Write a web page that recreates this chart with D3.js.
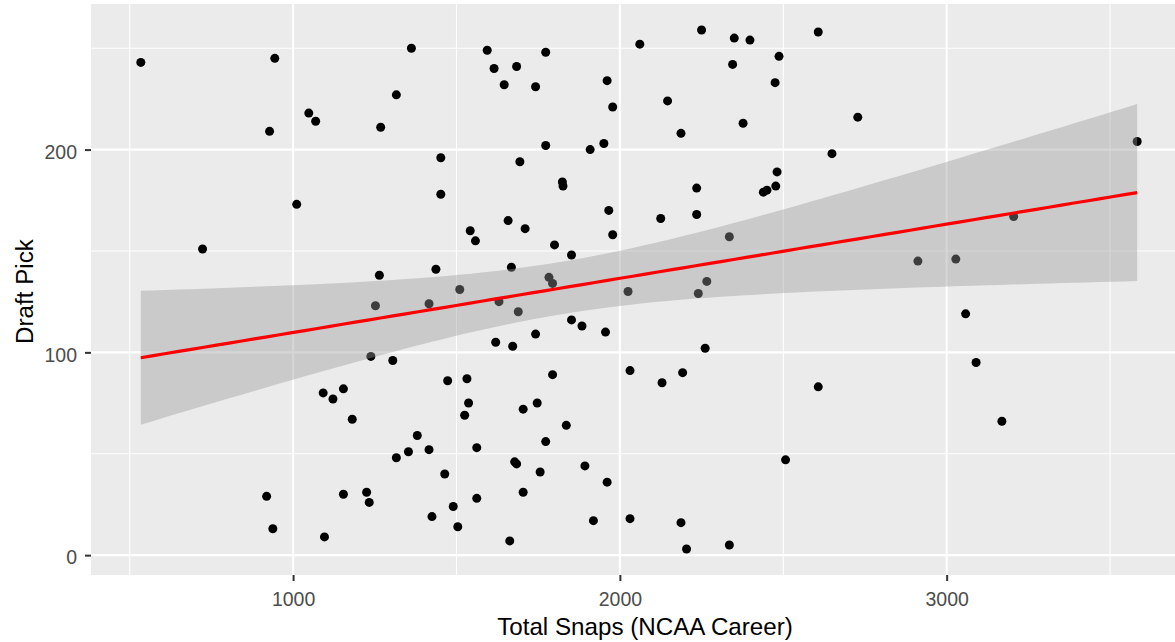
<!DOCTYPE html>
<html>
<head>
<meta charset="utf-8">
<script src="https://cdn.jsdelivr.net/npm/d3@7"></script>
<style>
body{margin:0;background:#fff;}
svg text{font-family:"Liberation Sans",Arial,sans-serif;}
</style>
</head>
<body>
<svg></svg>
<script>
// total NCAA snaps per player (x) and the pick he was drafted at (y)
var snaps = [534,944,1362,1594,1316,1048,1069,928,1268,1452,
             1452,1011,1542,1558,723,1264,1437,1510,1615,1684,
             1646,1742,1773,1961,1978,2061,2250,2350,2398,2607,
             2345,2487,2475,2146,2377,2187,2728,2649,1773,1694,
             1909,1951,1824,1826,2481,2477,2439,2450,2235,2235,
             2125,1966,1978,1658,1710,1800,1852,1668,1783,1794,
             2025,2240,2266,2335,3583,3205,2912,3028,1252,1416,
             1238,1305,1092,1122,1154,1181,1473,1532,1537,1525,
             1380,1353,1316,1416,1562,1464,1562,1490,1504,1425,
             1225,1233,1154,919,938,1096,1630,1689,1852,1884,
             1956,1620,1672,1742,2261,2031,2129,2192,2607,1794,
             1747,1704,1836,1773,1678,1684,1756,1893,1961,1704,
             2507,1919,2031,2187,1663,2204,2335,3058,3090,3169];

var picks = [243,245,250,249,227,218,214,209,211,196,
             178,173,160,155,151,138,141,131,240,241,
             232,231,248,234,221,252,259,255,254,258,
             242,246,233,224,213,208,216,198,202,194,
             200,203,184,182,189,182,179,180,181,168,
             166,170,158,165,161,153,148,142,137,134,
             130,129,135,157,204,167,145,146,123,124,
             98,96,80,77,82,67,86,87,75,69,
             59,51,48,52,53,40,28,24,14,19,
             31,26,30,29,13,9,125,120,116,113,
             110,105,103,109,102,91,85,90,83,89,
             75,72,64,56,46,45,41,44,36,31,
             47,17,18,16,7,3,5,119,95,66];

var xTicks = [1000,2000,3000];
var xMinor = [500,1500,2500,3500];
var yTicks = [0,100,200];
var yMinor = [50,150,250];

var screen = {width:1175, height:642};
var panel = {left:91, right:1187, top:4, bottom:575};

var svg = d3.select("svg")
    .attr("width",screen.width)
    .attr("height",screen.height);

// ggplot style 5% expansion
var expand = function(ext)
{
    var pad = (ext[1]-ext[0])*0.05;
    return [ext[0]-pad, ext[1]+pad];
}

var xScale = d3.scaleLinear()
    .domain(expand(d3.extent(snaps)))
    .range([panel.left,panel.right]);

var yScale = d3.scaleLinear()
    .domain(expand(d3.extent(picks)))
    .range([panel.bottom,panel.top]);

// linear fit + 95% confidence band, same as geom_smooth(method="lm")
var fitLine = function(xs, ys)
{
    var n = xs.length;
    var xbar = d3.mean(xs), ybar = d3.mean(ys);
    var sxx = 0, sxy = 0;
    xs.forEach(function(x,i){
        sxx += (x-xbar)*(x-xbar);
        sxy += (x-xbar)*(ys[i]-ybar);
    });
    var slope = sxy/sxx;
    var icpt = ybar - slope*xbar;
    var sse = 0;
    xs.forEach(function(x,i){
        var r = ys[i]-(icpt+slope*x);
        sse += r*r;
    });
    var s = Math.sqrt(sse/(n-2));
    var tq = 1.9787;
    var lo = d3.min(xs), hi = d3.max(xs);
    var pts = d3.range(80).map(function(k){
        var x = lo + (hi-lo)*k/79;
        var yhat = icpt + slope*x;
        var se = s*Math.sqrt(1/n + (x-xbar)*(x-xbar)/sxx);
        return {x:x, y:yhat, ymin:yhat-tq*se, ymax:yhat+tq*se};
    });
    return pts;
}

var fit = fitLine(snaps, picks);

// panel background
svg.append("rect")
    .attr("x",panel.left)
    .attr("y",panel.top)
    .attr("width",panel.right-panel.left)
    .attr("height",panel.bottom-panel.top)
    .attr("fill","#EBEBEB");

var grid = svg.append("g").attr("stroke","#FFFFFF");

grid.selectAll(".xminor").data(xMinor).enter().append("line")
    .attr("x1",function(d){return xScale(d);})
    .attr("x2",function(d){return xScale(d);})
    .attr("y1",panel.top).attr("y2",panel.bottom)
    .attr("stroke-width",1.1);
grid.selectAll(".yminor").data(yMinor).enter().append("line")
    .attr("y1",function(d){return yScale(d);})
    .attr("y2",function(d){return yScale(d);})
    .attr("x1",panel.left).attr("x2",panel.right)
    .attr("stroke-width",1.1);
grid.selectAll(".xmajor").data(xTicks).enter().append("line")
    .attr("x1",function(d){return xScale(d);})
    .attr("x2",function(d){return xScale(d);})
    .attr("y1",panel.top).attr("y2",panel.bottom)
    .attr("stroke-width",2.1);
grid.selectAll(".ymajor").data(yTicks).enter().append("line")
    .attr("y1",function(d){return yScale(d);})
    .attr("y2",function(d){return yScale(d);})
    .attr("x1",panel.left).attr("x2",panel.right)
    .attr("stroke-width",2.1);

// points
svg.append("g")
    .selectAll("circle")
    .data(snaps)
    .enter()
    .append("circle")
    .attr("cx",function(d){return xScale(d);})
    .attr("cy",function(d,i){return yScale(picks[i]);})
    .attr("r",4.5)
    .attr("fill","#000000");

// confidence band over the points
var area = d3.area()
    .x(function(d){return xScale(d.x);})
    .y0(function(d){return yScale(d.ymin);})
    .y1(function(d){return yScale(d.ymax);});

svg.append("path")
    .datum(fit)
    .attr("d",area)
    .attr("fill","#999999")
    .attr("fill-opacity",0.4);

var line = d3.line()
    .x(function(d){return xScale(d.x);})
    .y(function(d){return yScale(d.y);});

svg.append("path")
    .datum(fit)
    .attr("d",line)
    .attr("fill","none")
    .attr("stroke","#FF0000")
    .attr("stroke-width",3.2);

// axes
var xAxis = d3.axisBottom(xScale).tickValues(xTicks).tickSize(6).tickPadding(11).tickFormat(d3.format("d"));
var yAxis = d3.axisLeft(yScale).tickValues(yTicks).tickSize(6).tickPadding(8).tickFormat(d3.format("d"));

var gx = svg.append("g")
    .attr("transform","translate(0,"+panel.bottom+")")
    .call(xAxis);
var gy = svg.append("g")
    .attr("transform","translate("+panel.left+",0)")
    .call(yAxis);

[gx,gy].forEach(function(g){
    g.select(".domain").remove();
    g.selectAll(".tick line").attr("stroke","#333333").attr("stroke-width",2);
    g.selectAll(".tick text")
        .attr("fill","#4D4D4D")
        .style("font-size","19.5px");
});
gy.selectAll(".tick text").attr("dy","0.45em");
gx.selectAll(".tick text").attr("dy","0.71em");

// titles
svg.append("text")
    .text("Total Snaps (NCAA Career)")
    .attr("text-anchor","middle")
    .attr("x",645)
    .attr("y",635)
    .attr("fill","#000000")
    .style("font-size","24.2px");

svg.append("g")
    .attr("transform","translate(33,"+((panel.top+panel.bottom)/2+2)+")")
    .append("text")
    .text("Draft Pick")
    .attr("text-anchor","middle")
    .attr("transform","rotate(-90)")
    .attr("fill","#000000")
    .style("font-size","24.2px");
</script>
</body>
</html>
